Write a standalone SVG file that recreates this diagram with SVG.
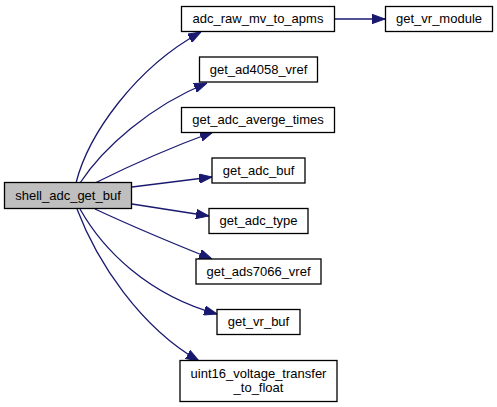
<svg xmlns="http://www.w3.org/2000/svg" width="497" height="407" viewBox="0 0 497 407">
<style>
.node rect{fill:#ffffff;stroke:#000000;stroke-width:1.3}
#n_main rect{fill:#bfbfbf}
.node text{font-family:"Liberation Sans",Arial,Helvetica,sans-serif;font-size:13px;fill:#000000;text-anchor:middle}
.edge{fill:none;stroke:#191970;stroke-width:1.3;marker-end:url(#arrow)}
</style>
<defs>
<marker id="arrow" markerUnits="userSpaceOnUse" markerWidth="13" markerHeight="10" refX="13" refY="5" orient="auto" viewBox="0 0 13 10">
<path d="M0,0.3 L13,5 L0,9.7 z" fill="#191970" stroke="#191970" stroke-width="1"/>
</marker>
</defs>
<g id="edges">
<path class="edge" d="M76,183 C88,135 135,68 201,32"/>
<path class="edge" d="M80,183 C103,148 150,106 207,83"/>
<path class="edge" d="M95,183 C125,168 172,147 213,132"/>
<path class="edge" d="M132,187 L212,177"/>
<path class="edge" d="M132,204 L209,216"/>
<path class="edge" d="M95,209 C125,223 172,243 212,259"/>
<path class="edge" d="M80,209 C103,250 148,295 217,314"/>
<path class="edge" d="M77,209 C97,262 140,327 199,361"/>
<path class="edge" d="M335,19 L385,19"/>
</g>
<g id="n_main" class="node"><rect x="4.5" y="182.5" width="127" height="26"/><text x="68" y="200">shell_adc_get_buf</text></g>
<g id="n_adc_raw_mv_to_apms" class="node"><rect x="181.5" y="6.5" width="153" height="25"/><text x="258" y="23">adc_raw_mv_to_apms</text></g>
<g id="n_get_vr_module" class="node"><rect x="385.5" y="6.5" width="107" height="25"/><text x="439" y="23">get_vr_module</text></g>
<g id="n_get_ad4058_vref" class="node"><rect x="199.5" y="57" width="118" height="25"/><text x="258.5" y="73.5">get_ad4058_vref</text></g>
<g id="n_get_adc_averge_times" class="node"><rect x="181.5" y="107.5" width="153" height="25"/><text x="258" y="124">get_adc_averge_times</text></g>
<g id="n_get_adc_buf" class="node"><rect x="212" y="158" width="93" height="25"/><text x="258.5" y="174.5">get_adc_buf</text></g>
<g id="n_get_adc_type" class="node"><rect x="209" y="208.5" width="99" height="25"/><text x="258.5" y="225">get_adc_type</text></g>
<g id="n_get_ads7066_vref" class="node"><rect x="196" y="259" width="125" height="25"/><text x="258.5" y="275.5">get_ads7066_vref</text></g>
<g id="n_get_vr_buf" class="node"><rect x="217" y="309.5" width="83" height="25"/><text x="258.5" y="326">get_vr_buf</text></g>
<g id="n_uint16_voltage_transfer_to_float" class="node"><rect x="180" y="360.5" width="157" height="41"/><text x="258.5" y="378">uint16_voltage_transfer</text><text x="258.5" y="392">_to_float</text></g>
</svg>
